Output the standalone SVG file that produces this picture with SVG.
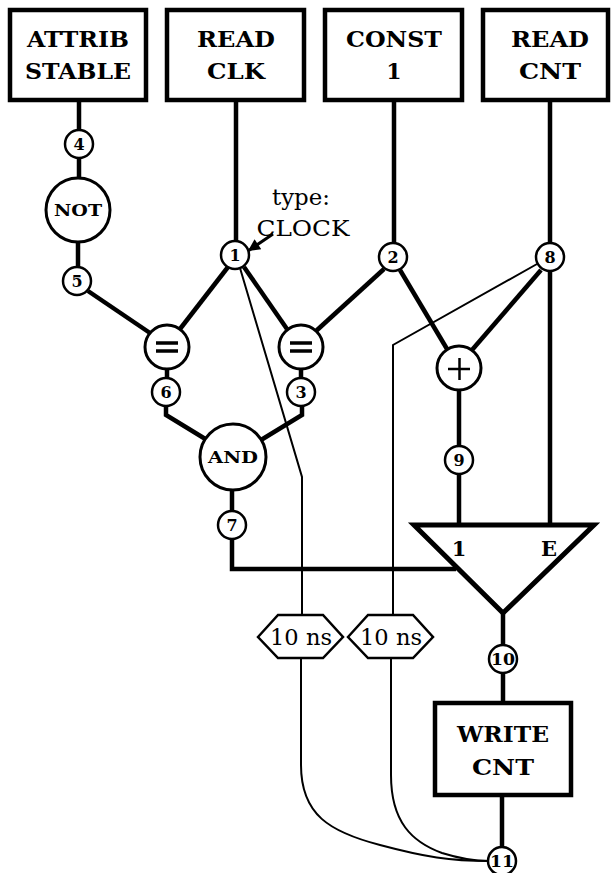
<svg xmlns="http://www.w3.org/2000/svg" width="611" height="873" viewBox="0 0 611 873">
  <defs>
    <style>
      .box { fill: #fff; stroke: #000; stroke-width: 4.5; }
      .op { fill: #fff; stroke: #000; stroke-width: 3; }
      .num { fill: #fff; stroke: #000; stroke-width: 2.5; }
      .thick { fill: none; stroke: #000; stroke-width: 4.5; stroke-linejoin: miter; }
      .thin { fill: none; stroke: #000; stroke-width: 2; }
      .lbl { font-family: "DejaVu Serif", "Liberation Serif", serif; font-weight: bold; fill: #000; text-anchor: middle; }
      .big { font-size: 22px; }
      .sm { font-size: 16px; }
      .reg { font-family: "DejaVu Serif", "Liberation Serif", serif; fill: #000; text-anchor: middle; font-size: 22px; }
      .sign { stroke: #000; stroke-width: 3.5; }
    </style>
    <marker id="arrow" viewBox="0 0 10 10" refX="10" refY="5" markerWidth="5" markerHeight="4" markerUnits="strokeWidth" orient="auto">
      <path d="M0,0 L10,5 L0,10 Z" fill="#000"/>
    </marker>
  </defs>

  <!-- connectors -->
  <g id="connectors">
    <!-- inputs into the graph -->
    <path class="thick" d="M79,100 V130"/>
    <path class="thick" d="M79,158 V178"/>
    <path class="thick" d="M78,242 V267"/>
    <path class="thick" d="M236,100 V241"/>
    <path class="thick" d="M394,100 V243"/>
    <path class="thick" d="M550,100 V243"/>
    <!-- comparators -->
    <path class="thick" d="M88,291 L150,333"/>
    <path class="thick" d="M228,267 L180,329"/>
    <path class="thick" d="M244,267 L287,329"/>
    <path class="thick" d="M384,269 L316,331"/>
    <path class="thick" d="M167,369 V378"/>
    <path class="thick" d="M301,369 V378"/>
    <!-- AND inputs -->
    <path class="thick" d="M166,406 V415 L207,440"/>
    <path class="thick" d="M302,406 V415 L261,440"/>
    <!-- adder -->
    <path class="thick" d="M400,270 L447,349"/>
    <path class="thick" d="M541,270 L472,350"/>
    <path class="thick" d="M459,390 V446"/>
    <path class="thick" d="M459,474 V525"/>
    <path class="thick" d="M550,271 V525"/>
    <!-- AND to multiplexer -->
    <path class="thick" d="M232,490 V511"/>
    <path class="thick" d="M232,539 V569 H456"/>
    <!-- multiplexer to write -->
    <path class="thick" d="M503,613 V645"/>
    <path class="thick" d="M503,673 V703"/>
    <path class="thick" d="M502,795 V847"/>
    <!-- delayed clock paths -->
    <path class="thin" d="M240,268 L302,477 V616"/>
    <path class="thin" d="M537,264 L393,345 V616"/>
    <path class="thin" d="M301,658 V765 C301,815 330,832 380,845 C425,857 450,861 489,861"/>
    <path class="thin" d="M391,658 V775 C391,822 412,842 442,853 C458,858 472,861 489,861"/>
    <!-- type annotation -->
    <path d="M273,234 L248,251" stroke="#000" stroke-width="3" marker-end="url(#arrow)"/>
  </g>

  <!-- source nodes -->
  <g id="attrib-stable">
    <rect class="box" x="10" y="10" width="136" height="90"/>
    <text class="lbl big" x="78" y="47" textLength="102" lengthAdjust="spacingAndGlyphs">ATTRIB</text>
    <text class="lbl big" x="78" y="79" textLength="106" lengthAdjust="spacingAndGlyphs">STABLE</text>
  </g>
  <g id="read-clk">
    <rect class="box" x="167" y="10" width="137" height="90"/>
    <text class="lbl big" x="236" y="47" textLength="78" lengthAdjust="spacingAndGlyphs">READ</text>
    <text class="lbl big" x="236" y="79" textLength="58" lengthAdjust="spacingAndGlyphs">CLK</text>
  </g>
  <g id="const-1">
    <rect class="box" x="325" y="10" width="137" height="90"/>
    <text class="lbl big" x="394" y="47" textLength="96" lengthAdjust="spacingAndGlyphs">CONST</text>
    <text class="lbl big" x="394" y="79">1</text>
  </g>
  <g id="read-cnt">
    <rect class="box" x="483" y="10" width="125" height="90"/>
    <text class="lbl big" x="550" y="47" textLength="78" lengthAdjust="spacingAndGlyphs">READ</text>
    <text class="lbl big" x="550" y="79" textLength="62" lengthAdjust="spacingAndGlyphs">CNT</text>
  </g>

  <!-- annotation -->
  <g id="type-note">
    <text class="reg" x="301" y="205" font-size="20" textLength="58" lengthAdjust="spacingAndGlyphs">type:</text>
    <text class="reg" x="303" y="236" textLength="93" lengthAdjust="spacingAndGlyphs">CLOCK</text>
  </g>

  <!-- value nodes -->
  <g id="n4"><circle class="num" cx="79" cy="144" r="14"/><text class="lbl sm" x="79" y="150">4</text></g>
  <g id="n5"><circle class="num" cx="77" cy="281" r="14"/><text class="lbl sm" x="77" y="287">5</text></g>
  <g id="n1"><circle class="num" cx="235" cy="255" r="14"/><text class="lbl sm" x="235" y="261">1</text></g>
  <g id="n2"><circle class="num" cx="393" cy="257" r="14"/><text class="lbl sm" x="393" y="263">2</text></g>
  <g id="n8"><circle class="num" cx="550" cy="257" r="14"/><text class="lbl sm" x="550" y="263">8</text></g>
  <g id="n6"><circle class="num" cx="166" cy="392" r="14"/><text class="lbl sm" x="166" y="398">6</text></g>
  <g id="n3"><circle class="num" cx="301" cy="392" r="14"/><text class="lbl sm" x="301" y="398">3</text></g>
  <g id="n9"><circle class="num" cx="459" cy="460" r="14"/><text class="lbl sm" x="459" y="466">9</text></g>
  <g id="n7"><circle class="num" cx="232" cy="525" r="14"/><text class="lbl sm" x="232" y="531">7</text></g>
  <g id="n10"><circle class="num" cx="503" cy="659" r="14"/><text class="lbl sm" x="503" y="665" textLength="24" lengthAdjust="spacingAndGlyphs">10</text></g>
  <g id="n11"><circle class="num" cx="502" cy="861" r="14"/><text class="lbl sm" x="502" y="867" textLength="24" lengthAdjust="spacingAndGlyphs">11</text></g>

  <!-- operators -->
  <g id="not">
    <circle class="op" cx="78" cy="210" r="32"/>
    <text class="lbl" x="78" y="216" font-size="17" textLength="48" lengthAdjust="spacingAndGlyphs">NOT</text>
  </g>
  <g id="eq-left">
    <circle class="op" cx="167" cy="347" r="22"/>
    <line class="sign" x1="156" y1="343" x2="178" y2="343"/>
    <line class="sign" x1="156" y1="351" x2="178" y2="351"/>
  </g>
  <g id="eq-right">
    <circle class="op" cx="301" cy="347" r="22"/>
    <line class="sign" x1="290" y1="343" x2="312" y2="343"/>
    <line class="sign" x1="290" y1="351" x2="312" y2="351"/>
  </g>
  <g id="and">
    <circle class="op" cx="233" cy="457" r="33"/>
    <text class="lbl" x="233" y="463" font-size="17" textLength="50" lengthAdjust="spacingAndGlyphs">AND</text>
  </g>
  <g id="add">
    <circle class="op" cx="459" cy="368" r="22"/>
    <line stroke="#000" stroke-width="2.5" x1="448" y1="369" x2="470" y2="369"/>
    <line stroke="#000" stroke-width="2.5" x1="459.5" y1="358" x2="459.5" y2="380"/>
  </g>

  <!-- multiplexer -->
  <g id="mux">
    <polygon points="414,525 594,525 503,613" fill="#fff" stroke="#000" stroke-width="5" stroke-linejoin="miter"/>
    <text class="lbl" x="459" y="556" font-size="21">1</text>
    <text class="lbl" x="549" y="556" font-size="21">E</text>
  </g>

  <!-- delays -->
  <g id="delay-1">
    <polygon points="258,637 278,615 323,615 343,637 323,658 278,658" fill="#fff" stroke="#000" stroke-width="2.5"/>
    <text class="reg" x="301" y="645" textLength="62" lengthAdjust="spacingAndGlyphs">10 ns</text>
  </g>
  <g id="delay-2">
    <polygon points="348,637 368,615 413,615 433,637 413,658 368,658" fill="#fff" stroke="#000" stroke-width="2.5"/>
    <text class="reg" x="391" y="645" textLength="62" lengthAdjust="spacingAndGlyphs">10 ns</text>
  </g>

  <!-- sink node -->
  <g id="write-cnt">
    <rect class="box" x="435" y="703" width="136" height="92"/>
    <text class="lbl big" x="503" y="742" textLength="92" lengthAdjust="spacingAndGlyphs">WRITE</text>
    <text class="lbl big" x="503" y="775" textLength="62" lengthAdjust="spacingAndGlyphs">CNT</text>
  </g>
</svg>
